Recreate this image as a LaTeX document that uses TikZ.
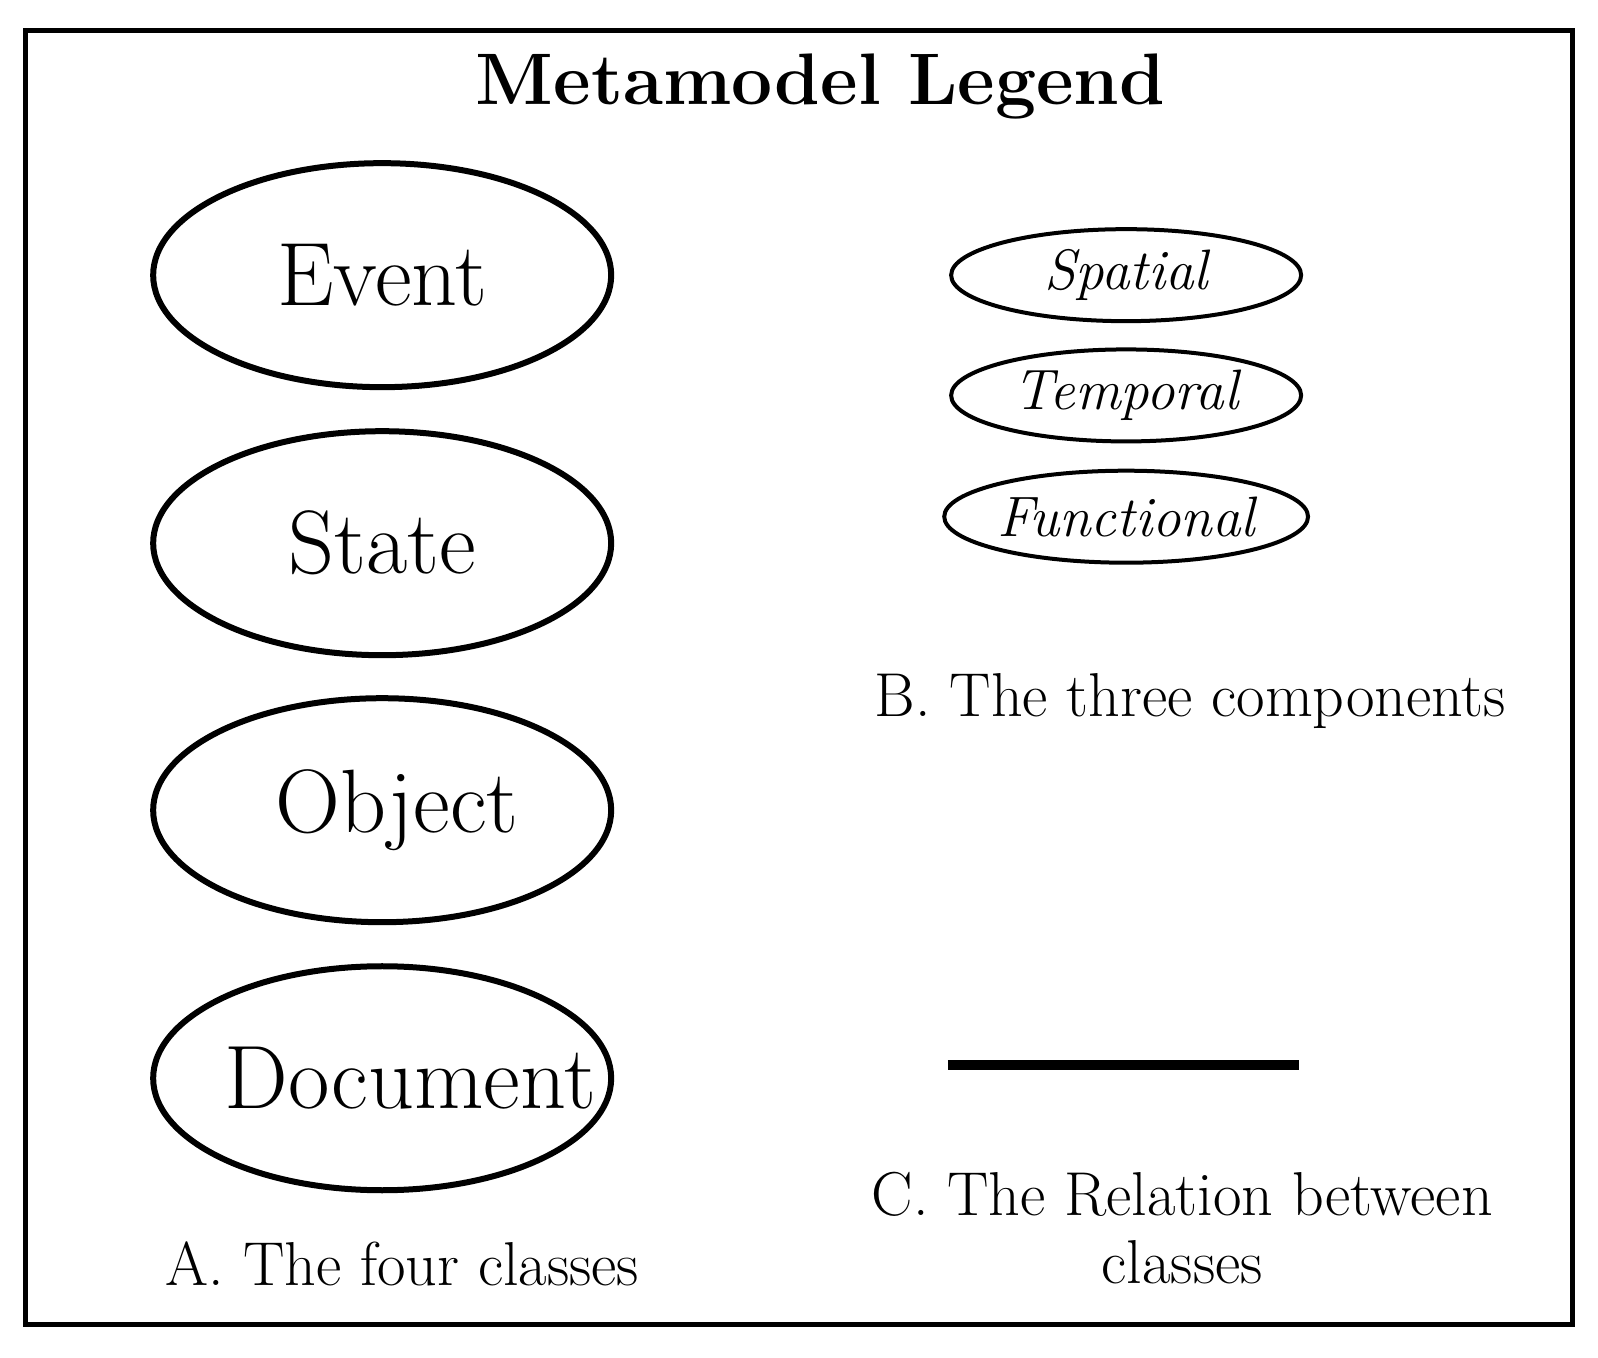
\documentclass[tikz,border=0pt]{standalone}
\usetikzlibrary{shapes.geometric}
\begin{document}
\begin{tikzpicture}[x=1.0191pt,y=-1.0191pt,
 big/.style={draw,line width=6pt,ellipse,inner sep=0pt,minimum width=458pt,minimum height=224pt},
 bigt/.style={font=\fontsize{90}{98}\selectfont},
 small/.style={draw,line width=4pt,ellipse,inner sep=0pt,minimum width=350pt,minimum height=92pt,font=\fontsize{57}{64}\selectfont\itshape},
 lab/.style={font=\fontsize{62}{68}\selectfont,align=center}]
\useasboundingbox (0,0) rectangle (1568,1332.5);
\draw[line width=5pt] (25,30) rectangle (1543,1300);
\node[font=\fontsize{73}{80}\selectfont\bfseries] (t) at (805,85) {Metamodel Legend};
\node[big] (e) at (375,270) {}; \node[bigt] (et) at (e) {Event};
\node[big] (s) at (375,533) {}; \node[bigt] (st) at (s) {State};
\node[big] (o) at (375,795) {}; \node[bigt] (ot) at ([xshift=15pt]o.center) {Object};
\node[big] (d) at (375,1058) {}; \node[bigt] (dt) at ([xshift=28pt]d.center) {Document};
\node[small] (sp) at (1105,270) {Spatial};
\node[small] (te) at (1105,388) {Temporal};
\node[small] (fu) at (1105,507) {Functional};
\node[lab] (b) at (1168,688) {B. The three components};
\coordinate (l1) at (930,1045);
\coordinate (l2) at (1275,1045);
\draw[line width=10pt] (l1) -- (l2);
\node[lab] (c) at (1160,1205) {C. The Relation between\\classes};
\node[lab] (a) at (395,1240) {A. The four classes};
\end{tikzpicture}
\end{document}
